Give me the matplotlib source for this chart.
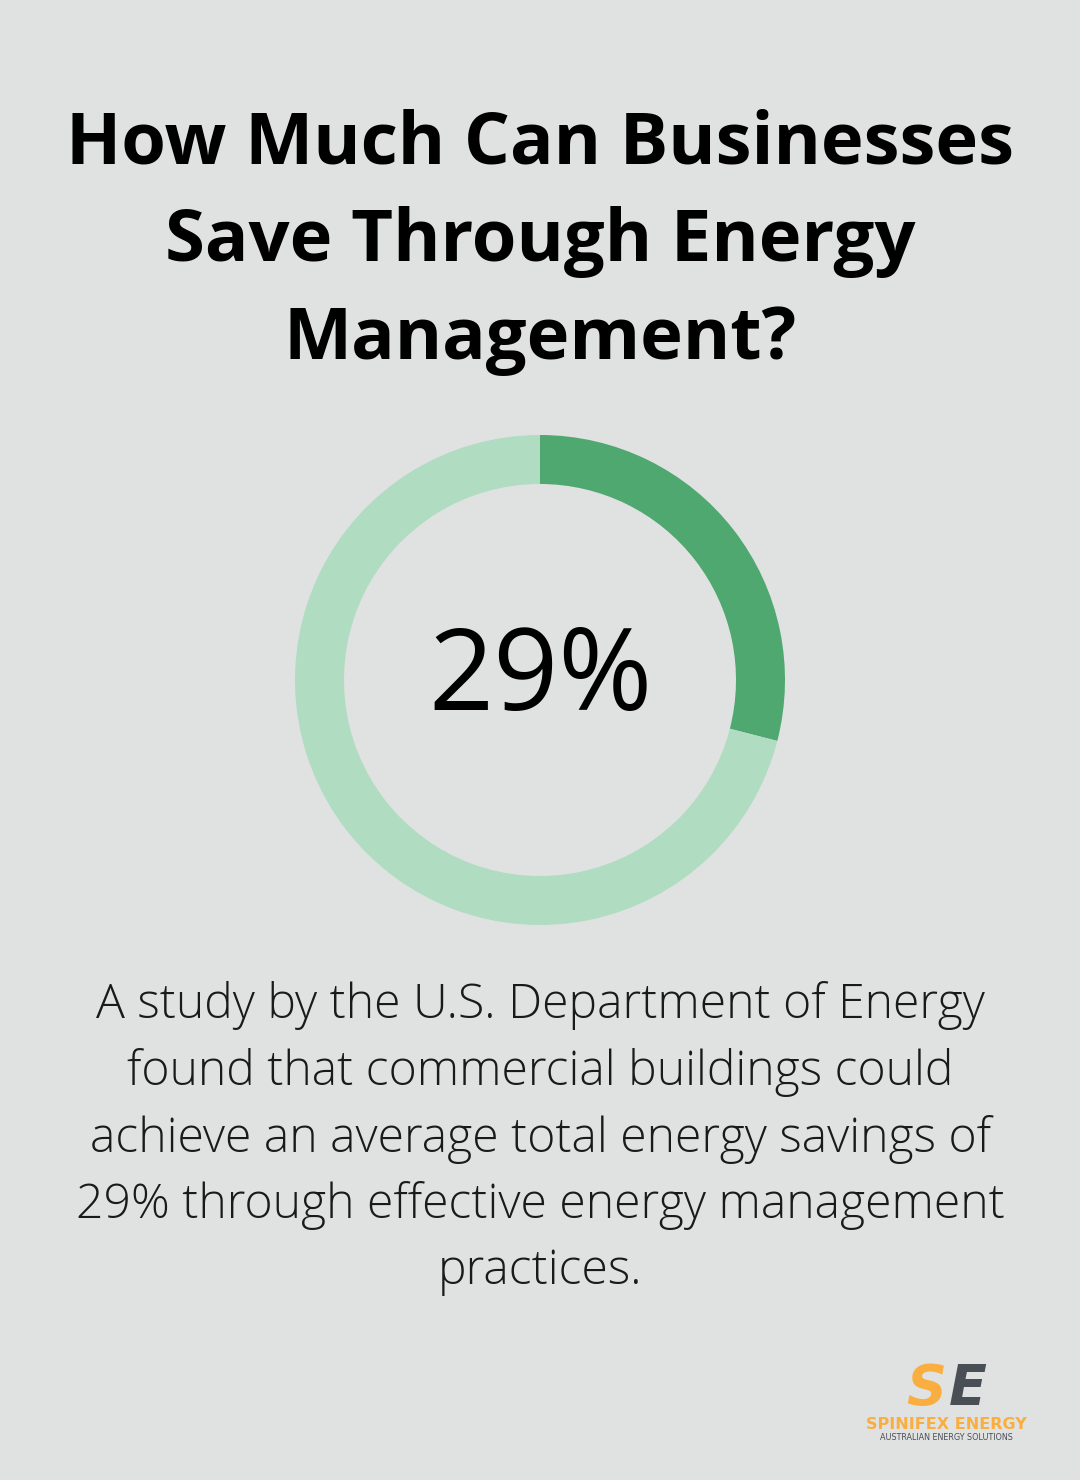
import matplotlib.pyplot as plt

# data
labels = ["Savings", "Remaining"]
values = [29, 71]
colors = ["#4ea86f", "#b0dcc2"]
title_lines = ["How Much Can Businesses", "Save Through Energy", "Management?"]
center_label = "29%"
body_lines = [
    "A study by the U.S. Department of Energy",
    "found that commercial buildings could",
    "achieve an average total energy savings of",
    "29% through effective energy management",
    "practices.",
]

W, H = 1080, 1480
bg = "#e0e2e1"

fig = plt.figure(figsize=(W / 100, H / 100), dpi=100, facecolor=bg)

# title
for i, line in enumerate(title_lines):
    fig.text(0.5, 1 - (144 + i * 98) / H, line, ha="center", va="center",
             fontsize=52, fontweight="bold", family="Open Sans", color="#000000")

# donut
cx, cy, r = 540, 680, 245
ax = fig.add_axes([(cx - r) / W, 1 - (cy + r) / H, 2 * r / W, 2 * r / H])
ax.pie(values, colors=colors, startangle=90, counterclock=False, radius=1,
       wedgeprops=dict(width=0.2, edgecolor="none"))
ax.set_xlim(-1, 1)
ax.set_ylim(-1, 1)
ax.set_aspect("equal")
ax.axis("off")
ax.text(0, 0, center_label, ha="center", va="center", fontsize=82,
        fontweight="medium", family="Open Sans", color="#000000")

# body text
for i, line in enumerate(body_lines):
    fig.text(0.5, 1 - (1006 + i * 66.5) / H, line, ha="center", va="center",
             fontsize=34.7, fontweight="light", family="Open Sans", color="#1a1a1a")

# logo
fig.text(926 / W, 1 - 1416 / H, "S", ha="center", va="bottom", fontsize=40,
         fontweight="bold", style="italic", family="DejaVu Sans", color="#f9ae3f")
fig.text(968 / W, 1 - 1416 / H, "E", ha="center", va="bottom", fontsize=40,
         fontweight="bold", style="italic", family="DejaVu Sans", color="#4a4e55")
fig.text(946 / W, 1 - 1417 / H, "SPINIFEX ENERGY", ha="center", va="top",
         fontsize=11.5, fontweight="bold", family="DejaVu Sans", color="#f9ae3f")
fig.text(946 / W, 1 - 1433 / H, "AUSTRALIAN ENERGY SOLUTIONS", ha="center",
         va="top", fontsize=5.8, family="DejaVu Sans", color="#4a4e55")

fig.savefig("out.png", dpi=100, facecolor=bg)
